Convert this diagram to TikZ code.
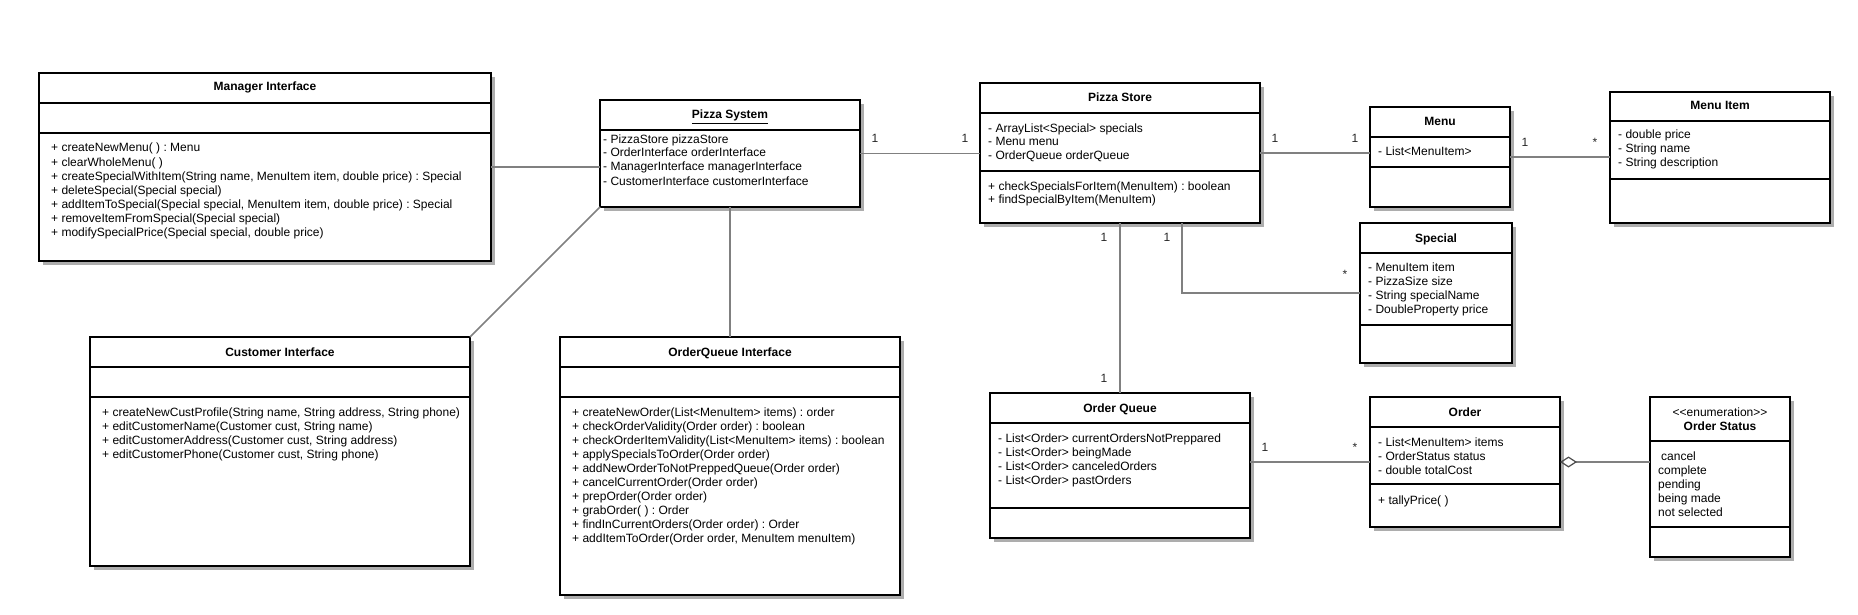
\documentclass[tikz,border=0pt]{standalone}
\usepackage{fontspec}
\setmainfont{Liberation Sans}
\usetikzlibrary{shadows,arrows.meta}
\frenchspacing
\tikzset{
 cls/.style={draw=black, line width=2pt, fill=white, inner sep=0pt, outer sep=0pt,
   drop shadow={shadow xshift=4pt, shadow yshift=-4pt, fill=black!32, opacity=1}},
 clsline/.style={draw=black, line width=2pt},
 txt/.style={font=\fontsize{12}{14}\selectfont, inner sep=0pt, anchor=base west},
 ttl/.style={font=\bfseries\fontsize{12}{14}\selectfont, inner sep=0pt, anchor=base},
 conn/.style={draw=black!50, line width=1.5pt},
 lbl/.style={font=\fontsize{12}{14}\selectfont, inner sep=0pt, text=black!85},
}
\newcommand{\umlbox}[5]{\node[cls, anchor=north west, minimum width={#4-#2}, minimum height={#5-#3}] (#1) at (#2,#3) {};}
\newcommand{\clsep}[2]{\draw[clsline] (#1.west |- 0,#2) -- (#1.east |- 0,#2);}
\newcommand{\rows}[4]{\foreach \t [count=\i] in {#4} {\node[txt] (#1-\i) at (#2,{#3+14*(\i-1)}) {\t};}}
\begin{document}
\begin{tikzpicture}[x=1pt,y=-1pt]
\useasboundingbox (0,0) rectangle (1858,615);
% ---------- boxes ----------
\umlbox{mi}{39}{73}{491}{261}
\umlbox{ci}{90}{337}{470}{566}
\umlbox{sys}{600}{100}{860}{207}
\umlbox{oqi}{560}{337}{900}{595}
\umlbox{store}{980}{83}{1260}{223}
\umlbox{menu}{1370}{107}{1510}{207}
\umlbox{item}{1610}{92}{1830}{223}
\umlbox{special}{1360}{223}{1512}{363}
\umlbox{oq}{990}{393}{1250}{538}
\umlbox{order}{1370}{397}{1560}{527}
\umlbox{status}{1650}{397}{1790}{557}
% ---------- separators ----------
\clsep{mi}{103}\clsep{mi}{133}
\clsep{ci}{367}\clsep{ci}{397}
\clsep{sys}{130}
\clsep{oqi}{367}\clsep{oqi}{397}
\clsep{store}{113}\clsep{store}{171}
\clsep{menu}{137}\clsep{menu}{167}
\clsep{item}{121}\clsep{item}{179}
\clsep{special}{253}\clsep{special}{325}
\clsep{oq}{423}\clsep{oq}{508}
\clsep{order}{427}\clsep{order}{484}
\clsep{status}{441}\clsep{status}{527}
% ---------- titles ----------
\node[ttl] (mi-t) at (mi.center |- 0,91) {Manager Interface};
\node[ttl] (ci-t) at (ci.center |- 0,356) {Customer Interface};
\node[ttl] (sys-t) at (sys.center |- 0,119) {\underline{Pizza System}};
\node[ttl] (oqi-t) at (oqi.center |- 0,356) {OrderQueue Interface};
\node[ttl] (store-t) at (store.center |- 0,102) {Pizza Store};
\node[ttl] (menu-t) at (menu.center |- 0,126) {Menu};
\node[ttl] (item-t) at (item.center |- 0,110) {Menu Item};
\node[ttl] (special-t) at (special.center |- 0,242) {Special};
\node[ttl] (oq-t) at (oq.center |- 0,412) {Order Queue};
\node[ttl] (order-t) at (order.center |- 0,416) {Order};
\node[ttl, font=\fontsize{12}{14}\selectfont] (status-s) at (status.center |- 0,416) {<{}<enumeration>{}>};
\node[ttl] (status-t) at (status.center |- 0,430) {Order Status};
% ---------- members ----------
\rows{mim}{51}{152}{{+ createNewMenu( ) : Menu},{+ clearWholeMenu( )},{+ createSpecialWithItem(String name, MenuItem item, double price) : Special},{+ deleteSpecial(Special special)},{+ addItemToSpecial(Special special, MenuItem item, double price) : Special},{+ removeItemFromSpecial(Special special)},{+ modifySpecialPrice(Special special, double price)}}
\rows{cim}{102}{416}{{+ createNewCustProfile(String name, String address, String phone)},{+ editCustomerName(Customer cust, String name)},{+ editCustomerAddress(Customer cust, String address)},{+ editCustomerPhone(Customer cust, String phone)}}
\rows{sysa}{603}{143}{{- PizzaStore pizzaStore},{- OrderInterface orderInterface},{- ManagerInterface managerInterface},{- CustomerInterface customerInterface}}
\rows{oqim}{572}{416}{{+ createNewOrder(List<MenuItem> items) : order},{+ checkOrderValidity(Order order) : boolean},{+ checkOrderItemValidity(List<MenuItem> items) : boolean},{+ applySpecialsToOrder(Order order)},{+ addNewOrderToNotPreppedQueue(Order order)},{+ cancelCurrentOrder(Order order)},{+ prepOrder(Order order)},{+ grabOrder( ) : Order},{+ findInCurrentOrders(Order order) : Order},{+ addItemToOrder(Order order, MenuItem menuItem)}}
\rows{storea}{988}{132}{{- ArrayList<Special> specials},{- Menu menu},{- OrderQueue orderQueue}}
\rows{storem}{988}{190}{{+ checkSpecialsForItem(MenuItem) : boolean},{+ findSpecialByItem(MenuItem)}}
\rows{menua}{1378}{156}{{- List<MenuItem>}}
\rows{itema}{1618}{139}{{- double price},{- String name},{- String description}}
\rows{speciala}{1368}{271}{{- MenuItem item},{- PizzaSize size},{- String specialName},{- DoubleProperty price}}
\rows{oqa}{998}{442}{{- List<Order> currentOrdersNotPreppared},{- List<Order> beingMade},{- List<Order> canceledOrders},{- List<Order> pastOrders}}
\rows{ordera}{1378}{446}{{- List<MenuItem> items},{- OrderStatus status},{- double totalCost}}
\rows{orderm}{1378}{504}{{+ tallyPrice( )}}
\rows{statusa}{1658}{460}{{\hspace{3pt}cancel},{complete},{pending},{being made},{not selected}}
% ---------- connectors ----------
\draw[conn] (mi.east) -- (sys.west |- mi.east);
\draw[conn] (sys.south west) -- (ci.north east);
\draw[conn] (sys.south) -- (oqi.north);
\draw[conn] (sys.east) -- (store.west |- sys.east);
\draw[conn] (store.east) -- (menu.west |- store.east);
\draw[conn] (menu.east) -- (item.west |- menu.east);
\draw[conn] (store.south) -- (oq.north);
\draw[conn] (store.south east) ++(-78,0) |- (special.west);
\draw[conn] (oq.east |- order.west) -- (order.west);
\draw[conn, {Diamond[open, length=17pt, width=11pt, line width=1.2pt, color=black!70]}-] (order.east) -- (status.west |- order.east);
% ---------- multiplicities ----------
\node[lbl] (l1) at (875,138) {1};
\node[lbl] (l2) at (965,138) {1};
\node[lbl] (l3) at (1275,138) {1};
\node[lbl] (l4) at (1355,138) {1};
\node[lbl] (l5) at (1525,142) {1};
\node[lbl] (l6) at (1595,142) {*};
\node[lbl] (l7) at (1104,237) {1};
\node[lbl] (l8) at (1167,237) {1};
\node[lbl] (l9) at (1345,274) {*};
\node[lbl] (l10) at (1104,378) {1};
\node[lbl] (l11) at (1265,447) {1};
\node[lbl] (l12) at (1355,447) {*};
\end{tikzpicture}
\end{document}
